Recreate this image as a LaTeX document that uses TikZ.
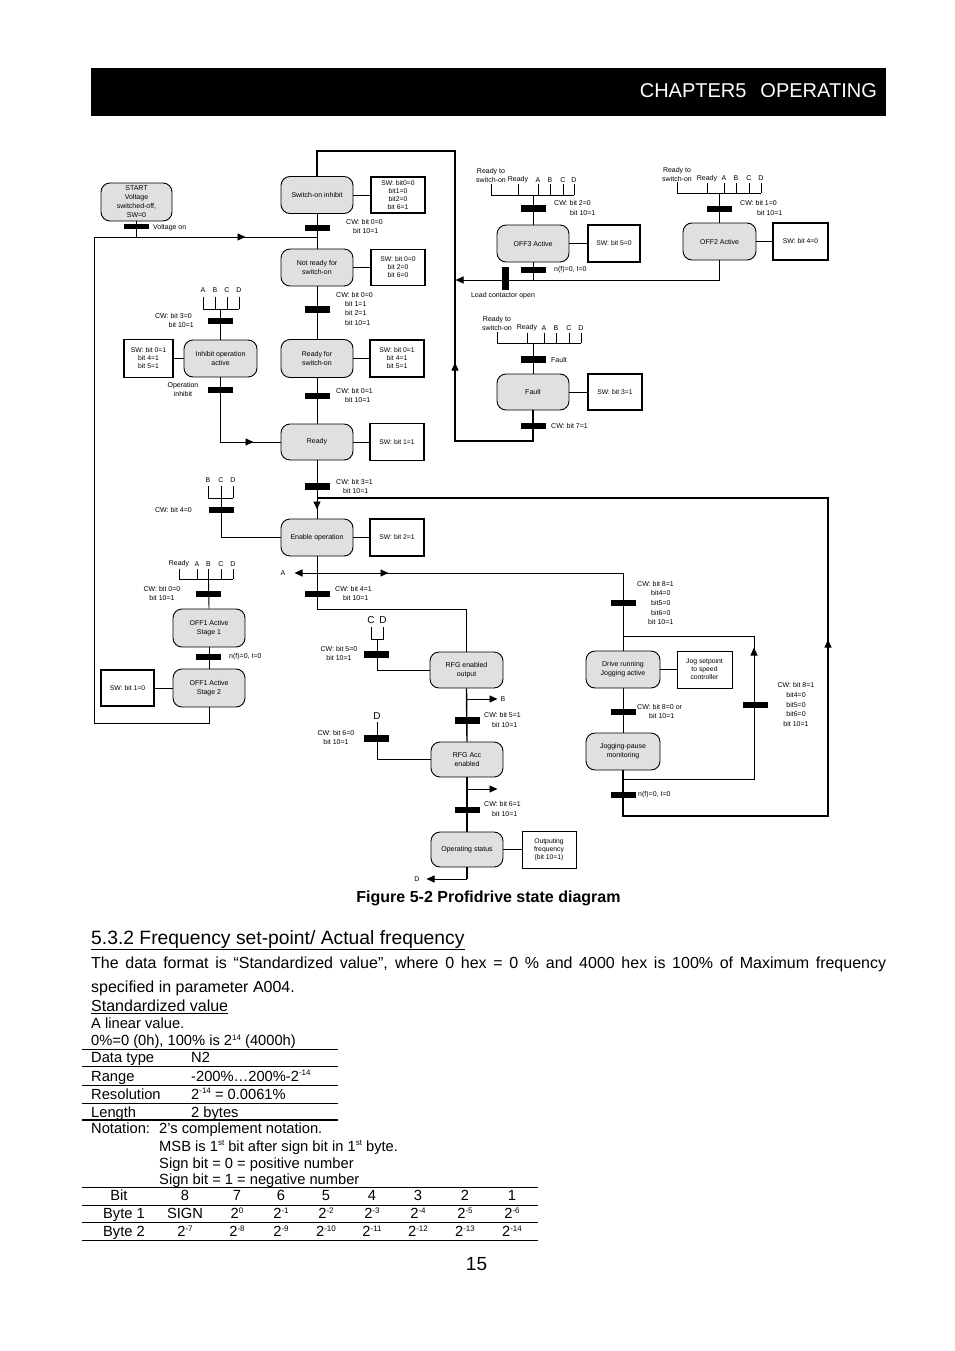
\documentclass[tikz,border=0pt]{standalone}
\usepackage{fontspec}
\setmainfont{Liberation Sans}
\usetikzlibrary{arrows.meta}
\newcommand\dgm{\fontsize{7}{9}\selectfont}
\newcommand\swf{\fontsize{6.8}{8}\selectfont}
\newcommand\bodyfnt{\fontsize{16}{24}\selectfont}
\newcommand\tabfnt{\fontsize{14.7}{17}\selectfont}
\newcommand\pwr[1]{\raisebox{5.5pt}{\fontsize{8}{9}\selectfont #1}}
\tikzset{
 st/.style={draw, line width=0.9pt, rounded corners=9pt, fill=black!12, minimum width=72pt, minimum height=37pt, align=center, font=\dgm, inner sep=1pt},
 sw/.style={draw, line width=1.3pt, minimum width=54pt, minimum height=36pt, align=center, font=\swf, inner sep=1pt},
 bar/.style={fill=black, draw=none, minimum width=25pt, minimum height=6.5pt, inner sep=0pt},
 vbar/.style={fill=black, draw=none, minimum width=7pt, minimum height=23pt, inner sep=0pt},
 lb/.style={font=\dgm, inner sep=0pt, align=left},
 lbc/.style={font=\dgm, inner sep=0pt, align=center},
 big/.style={font=\fontsize{10}{12}\selectfont, inner sep=0pt},
 ln/.style={line width=0.9pt},
 thk/.style={line width=1.4pt},
 arr/.style={line width=0.9pt, -{Triangle[length=8pt,width=7pt]}},
 txt/.style={anchor=base west, inner sep=0pt, font=\tabfnt},
 tcell/.style={anchor=base, inner sep=0pt, font=\tabfnt},
}
\begin{document}
\begin{tikzpicture}[x=1pt,y=-1pt]
\useasboundingbox (0,0) rectangle (954,1351);
\fill[white] (0,0) rectangle (954,1351);
% header
\fill[black] (91,68) rectangle (886,116);
\node[anchor=base east, text=white, inner sep=0pt, font=\fontsize{20}{22}\selectfont] (chap) at (877,98) {CHAPTER5\hspace{14pt}OPERATING};

% ---------- states ----------
\node[st, minimum width=71pt, minimum height=38pt] (start) at (136.5,202) {START\\Voltage\\switched-off,\\SW=0};
\node[st] (soi) at (317,195) {Switch-on inhibit};
\node[sw] (soisw) at (398,195) {SW: bit0=0\\bit1=0\\bit2=0\\bit 6=1};
\node[st] (nr) at (317,267.5) {Not ready for\\switch-on};
\node[sw] (nrsw) at (398,267.5) {SW: bit 0=0\\bit 2=0\\bit 6=0};
\node[st, minimum height=38pt] (rso) at (317,358.5) {Ready for\\switch-on};
\node[sw, minimum height=37pt] (rsosw) at (397,358.5) {SW: bit 0=1\\bit 4=1\\bit 5=1};
\node[st, minimum height=36pt] (rdy) at (317,442) {Ready};
\node[sw, minimum height=37pt] (rdysw) at (397,442) {SW: bit 1=1};
\node[st, minimum width=73pt] (inh) at (220.5,358.5) {Inhibit operation\\active};
\node[sw, minimum width=49pt, minimum height=38pt] (inhsw) at (148.5,358.5) {SW: bit 0=1\\bit 4=1\\bit 5=1};
\node[st] (en) at (317,537.5) {Enable operation};
\node[sw, minimum height=37pt] (ensw) at (397,537.5) {SW: bit 2=1};
\node[st] (off3) at (533,243.5) {OFF3 Active};
\node[sw, minimum width=52pt, minimum height=37pt] (off3sw) at (614,243.5) {SW: bit 5=0};
\node[st, minimum width=73pt] (off2) at (719.5,241.5) {OFF2 Active};
\node[sw, minimum width=55pt, minimum height=37pt] (off2sw) at (800.5,241.5) {SW: bit 4=0};
\node[st, minimum height=36pt] (flt) at (533,392) {Fault};
\node[sw] (fltsw) at (615,392) {SW: bit 3=1};
\node[st, minimum height=38pt] (off1a) at (209,628) {OFF1 Active\\Stage 1};
\node[st, minimum height=38pt] (off1b) at (209,688) {OFF1 Active\\Stage 2};
\node[sw, minimum width=53pt] (off1sw) at (127.5,688) {SW: bit 1=0};
\node[st, minimum width=73pt, minimum height=36pt] (rfg) at (466.5,670) {RFG enabled\\output};
\node[st, minimum height=35pt] (acc) at (467,759.5) {RFG Acc\\enabled};
\node[st, minimum height=35pt] (ops) at (467,849.5) {Operating status};
\node[sw, minimum height=37pt, line width=1pt] (opssw) at (549,849.5) {Outputing\\frequency\\(bit 10=1)};
\node[st, minimum width=74pt] (drv) at (623,669.5) {Drive running\\Jogging active};
\node[sw, minimum width=55pt, minimum height=37pt, line width=1pt] (jog) at (704.5,669.5) {Jog setpoint\\to speed\\controller};
\node[st, minimum width=74pt] (jp) at (623,751.5) {Jogging-pause\\monitoring};

% ---------- status links ----------
\draw[ln] (soi.east) -- (soisw.west);
\draw[ln] (nr.east) -- (nrsw.west);
\draw[ln] (rso.east) -- (rsosw.west);
\draw[ln] (rdy.east) -- (rdysw.west);
\draw[ln] (en.east) -- (ensw.west);
\draw[ln] (inh.west) -- (inhsw.east);
\draw[ln] (off3.east) -- (off3sw.west);
\draw[ln] (off2.east) -- (off2sw.west);
\draw[ln] (flt.east) -- (fltsw.west);
\draw[ln] (off1b.west) -- (off1sw.east);
\draw[ln] (ops.east) -- (opssw.west);
\draw[ln] (drv.east) -- (jog.west);

% ---------- main connectors ----------
\draw[ln] (start.south) -- (136.5,237);
\draw[ln] (off1b.south) -- (209,723) -- (94,723) -- (94,237) -- (317,237);
\draw[arr] (236,237) -- (245.5,237);
\draw[ln] (soi.south) -- (nr.north);
\draw[line width=1.2pt] (soi.north) -- (317,151) -- (455,151) -- (455,441) -- (533,441) -- (flt.south);
\draw[arr] (455,372) -- (455,362.5);
\draw[arr] (off2.south) -- (719.5,280) -- (455.5,280);
\draw[ln] (off3.south) -- (533,280);
\draw[ln] (nr.south) -- (rso.north);
\draw[ln] (rso.south) -- (rdy.north);
\draw[ln] (rdy.south) -- (en.north);
\draw[arr] (317,500) -- (317,509.5);
\draw[line width=1.2pt] (317,498) -- (828,498) -- (828,816) -- (623,816) -- (jp.south);
\draw[arr] (828,650) -- (828,639.5);
\draw[ln] (en.south) -- (317,609) -- (466.5,609);
\draw[thk] (466.5,609) -- (rfg.north);
\draw[arr] (drv.north) -- (623,573) -- (294.5,573);
\draw[arr] (378,573) -- (388.5,573);
\draw[ln] (623,636) -- (754,636) -- (754,779) -- (623,779);
\draw[arr] (754,658) -- (754,647.5);
\draw[ln] (drv.south) -- (jp.north);
\draw[thk] (rfg.south) -- (acc.north);
\draw[thk] (acc.south) -- (ops.north);
\draw[thk] (ops.south) -- (467,879);
\draw[arr] (467,879) -- (426.5,879);
\draw[arr] (467,699) -- (497.5,699);
\draw[arr] (467,789) -- (497.5,789);

% ---------- headers ----------
% inhibit ABCD
\foreach \x/\t in {203/A,215/B,227/C,239/D}{\node[lb] (hi\t) at (\x,290) {\t}; \draw[ln] (\x,296.5) -- (\x,309);}
\draw[ln] (203,309) -- (239,309);
\draw[ln] (220.5,309) -- (inh.north);
\draw[ln] (inh.south) -- (220.5,442) -- (rdy.west);
\draw[arr] (244,442) -- (253.5,442);
% enable BCD
\foreach \x/\t in {208/B,221/C,233/D}{\node[lb] (he\t) at (\x,480) {\t}; \draw[ln] (\x,486) -- (\x,498);}
\draw[ln] (208,498) -- (233,498);
\draw[ln] (221,498) -- (221,537.5) -- (en.west);
% OFF1 header
\node[lb] (h1R) at (179,564) {Ready};
\foreach \x/\t in {197/A,208.5/B,221/C,233/D}{\node[lb] (h1\t) at (\x,564) {\t}; \draw[ln] (\x,569) -- (\x,579);}
\draw[ln] (179,568.5) -- (179,579) -- (233,579);
\draw[ln] (208.5,579) -- (off1a.north);
\draw[ln] (off1a.south) -- (off1b.north);
% C D header
\node[big] (hcC) at (371,620) {C};
\node[big] (hcD) at (383,620) {D};
\draw[ln] (371,627) -- (371,639) -- (383,639) -- (383,627);
\draw[ln] (377,639) -- (377,670) -- (rfg.west);
% D header
\node[big] (hdD) at (377,716) {D};
\draw[ln] (377,722) -- (377,759.5) -- (acc.west);
% OFF3 header
\node[lbc] (h3rs) at (491,175.5) {Ready to\\switch-on};
\foreach \x/\t in {518/Ready,538/A,550/B,563/C,574/D}{\node[lb] (h3\t) at (\x,180) {\t}; \draw[ln] (\x,184.5) -- (\x,195);}
\draw[ln] (491,184) -- (491,195) -- (574,195);
\draw[ln] (533,195) -- (off3.north);
% OFF2 header
\node[lbc] (h2rs) at (677,174) {Ready to\\switch-on};
\foreach \x/\t in {707/Ready,724/A,736/B,749/C,761/D}{\node[lb] (h2\t) at (\x,178.5) {\t}; \draw[ln] (\x,183) -- (\x,193);}
\draw[ln] (677,182.5) -- (677,193) -- (761,193);
\draw[ln] (719.5,193) -- (off2.north);
% Fault header
\node[lbc] (hfrs) at (497,323.5) {Ready to\\switch-on};
\foreach \x/\t in {527/Ready,544/A,556/B,569/C,581/D}{\node[lb] (hf\t) at (\x,328) {\t}; \draw[ln] (\x,332.5) -- (\x,343);}
\draw[ln] (497,332) -- (497,343) -- (581,343);
\draw[ln] (533,343) -- (flt.north);

% ---------- bars ----------
\node[bar, minimum height=5pt] (b0) at (136.5,226.5) {};
\node[bar] (b1) at (317,228) {};
\node[bar] (b2) at (317,309.5) {};
\node[bar] (b3) at (317,396) {};
\node[bar] (b4) at (220.5,321) {};
\node[bar] (b5) at (220.5,390) {};
\node[bar] (b6) at (317,486.5) {};
\node[bar] (b7) at (221.5,510) {};
\node[bar] (b8) at (317,594) {};
\node[bar] (b9) at (208.5,594) {};
\node[bar] (b10) at (208.5,657) {};
\node[bar] (b11) at (376.5,654.5) {};
\node[bar] (b12) at (467,720.5) {};
\node[bar] (b13) at (376.5,738.5) {};
\node[bar] (b14) at (467,810) {};
\node[bar] (b15) at (533.5,208.5) {};
\node[bar] (b16) at (533.5,270) {};
\node[vbar] (b17) at (505.5,278.5) {};
\node[bar] (b18) at (719.5,209) {};
\node[bar] (b19) at (533.5,359.5) {};
\node[bar] (b20) at (533.5,426) {};
\node[bar] (b21) at (623.5,603) {};
\node[bar] (b22) at (623.5,712) {};
\node[bar] (b23) at (623.5,795) {};
\node[bar] (b24) at (755.5,705) {};

% ---------- labels ----------
\node[lb, anchor=west] (vo) at (153,228) {Voltage on};
\node[lb, anchor=west] (c1a) at (346,222) {CW: bit 0=0};
\node[lb, anchor=west] (c1b) at (353,231) {bit 10=1};
\node[lb, anchor=west] (c2a) at (336,295) {CW: bit 0=0};
\node[lb, anchor=west] (c2b) at (345,304) {bit 1=1};
\node[lb, anchor=west] (c2c) at (345,313) {bit 2=1};
\node[lb, anchor=west] (c2d) at (345,323) {bit 10=1};
\node[lb, anchor=west] (c3a) at (336,391) {CW: bit 0=1};
\node[lb, anchor=west] (c3b) at (345,400) {bit 10=1};
\node[lb, anchor=east] (c4a) at (192,316) {CW: bit 3=0};
\node[lb, anchor=east] (c4b) at (194,325) {bit 10=1};
\node[lbc] (oi) at (183,389.5) {Operation\\inhibit};
\node[lb, anchor=west] (c5a) at (336,482) {CW: bit 3=1};
\node[lb, anchor=west] (c5b) at (343,491) {bit 10=1};
\node[lb, anchor=east] (c6) at (192,510) {CW: bit 4=0};
\node[lb, anchor=west] (c7a) at (335,589) {CW: bit 4=1};
\node[lb, anchor=west] (c7b) at (343,598) {bit 10=1};
\node[lbc] (c8) at (162,593.5) {CW: bit 0=0\\bit 10=1};
\node[lb, anchor=west] (c9) at (229,657) {n(f)=0, I=0};
\node[lbc] (c10) at (339,653.5) {CW: bit 5=0\\bit 10=1};
\node[lb, anchor=west] (c11a) at (484,715) {CW: bit 5=1};
\node[lb, anchor=west] (c11b) at (492,725) {bit 10=1};
\node[lbc] (c12) at (336,737.5) {CW: bit 6=0\\bit 10=1};
\node[lb, anchor=west] (c13a) at (484,804) {CW: bit 6=1};
\node[lb, anchor=west] (c13b) at (492,814) {bit 10=1};
\node[lb] (lA) at (283,573) {A};
\node[lb] (lB) at (503,699) {B};
\node[lb] (lD) at (417,879) {D};
\node[lb, anchor=west] (c14a) at (554,203) {CW: bit 2=0};
\node[lb, anchor=west] (c14b) at (570,213) {bit 10=1};
\node[lb, anchor=west] (c15) at (554,270) {n(f)=0, I=0};
\node[lb] (lco) at (503,296) {Load contactor open};
\node[lb, anchor=west] (c16a) at (740,203) {CW: bit 1=0};
\node[lb, anchor=west] (c16b) at (757,213) {bit 10=1};
\node[lb, anchor=west] (c17) at (551,359.5) {Fault};
\node[lb, anchor=west] (c18) at (551,426) {CW: bit 7=1};
\node[lb, anchor=west] (c19a) at (637,584) {CW: bit 8=1};
\node[lb, anchor=west] (c19b) at (651,593) {bit4=0};
\node[lb, anchor=west] (c19c) at (651,603) {bit5=0};
\node[lb, anchor=west] (c19d) at (651,613) {bit6=0};
\node[lb, anchor=west] (c19e) at (648,622) {bit 10=1};
\node[lb, anchor=west] (c20a) at (637,707) {CW: bit 8=0 or};
\node[lb, anchor=west] (c20b) at (649,716) {bit 10=1};
\node[lbc, font=\fontsize{7}{9.7}\selectfont] (c21) at (796,704.5) {CW: bit 8=1\\bit4=0\\bit5=0\\bit6=0\\bit 10=1};
\node[lb, anchor=west] (c22) at (638,795) {n(f)=0, I=0};

% caption
\node[anchor=base, inner sep=0pt, font=\bfseries\fontsize{16}{18}\selectfont] (cap) at (488.5,902.5) {Figure 5-2 Profidrive state diagram};

% ---------- text part ----------
\node[anchor=base west, inner sep=0pt, font=\fontsize{19.3}{22}\selectfont] (sec) at (91,944) {\underline{5.3.2 Frequency set-point/ Actual frequency}};
\node[anchor=base west, inner sep=0pt, font=\bodyfnt] (p1) at (91,968.5) {\makebox[795pt][s]{The data format is “Standardized value”, where 0 hex = 0 \% and 4000 hex is 100\% of Maximum frequency}};
\node[anchor=base west, inner sep=0pt, font=\bodyfnt] (p2) at (91,992.5) {specified in parameter A004.};
\node[txt, font=\fontsize{16}{18}\selectfont] (sv) at (91,1011.5) {\underline{Standardized value}};
\node[txt] (lin) at (91,1028.5) {A linear value.};
\node[txt] (pct) at (91,1045.5) {0\%=0 (0h), 100\% is 2\pwr{14} (4000h)};
\draw[line width=0.9pt] (82,1049) -- (338,1049);
\draw[line width=0.9pt] (82,1066) -- (338,1066);
\draw[line width=0.9pt] (82,1085) -- (338,1085);
\draw[line width=0.9pt] (82,1103) -- (338,1103);
\draw[line width=2pt] (82,1120) -- (338,1120);
\node[txt] (t1a) at (91,1062.5) {Data type};
\node[txt] (t1b) at (191,1062.5) {N2};
\node[txt] (t2a) at (91,1081) {Range};
\node[txt] (t2b) at (191,1081) {-200\%…200\%-2\pwr{-14}};
\node[txt] (t3a) at (91,1099) {Resolution};
\node[txt] (t3b) at (191,1099) {2\pwr{-14} = 0.0061\%};
\node[txt] (t4a) at (91,1117) {Length};
\node[txt] (t4b) at (191,1117) {2 bytes};
\node[txt] (n1) at (91,1133.5) {Notation:};
\node[txt] (n2) at (159,1133.5) {2’s complement notation.};
\node[txt] (n3) at (159,1151) {MSB is 1\pwr{st} bit after sign bit in 1\pwr{st} byte.};
\node[txt] (n4) at (159,1168) {Sign bit = 0 = positive number};
\node[txt] (n5) at (159,1184) {Sign bit = 1 = negative number};
\foreach \yy in {1187,1205,1222,1240}{\draw[line width=0.9pt] (82,\yy) -- (538,\yy);}
\node[tcell] (bt0) at (119,1200.5) {Bit};
\node[tcell] (by1) at (124,1218.5) {Byte 1};
\node[tcell] (by2) at (124,1236.5) {Byte 2};
\foreach \x/\a/\b/\c [count=\i] in {185/8/SIGN/2\pwr{-7}, 237/7/2\pwr{0}/2\pwr{-8}, 281/6/2\pwr{-1}/2\pwr{-9}, 326/5/2\pwr{-2}/2\pwr{-10}, 372/4/2\pwr{-3}/2\pwr{-11}, 418/3/2\pwr{-4}/2\pwr{-12}, 465/2/2\pwr{-5}/2\pwr{-13}, 512/1/2\pwr{-6}/2\pwr{-14}}{
  \node[tcell] (ra\i) at (\x,1200.5) {\a};
  \node[tcell] (rb\i) at (\x,1218.5) {\b};
  \node[tcell] (rc\i) at (\x,1236.5) {\c};
}
\node[anchor=base, inner sep=0pt, font=\fontsize{19}{22}\selectfont] (pg) at (476.5,1270) {15};
\end{tikzpicture}
\end{document}
